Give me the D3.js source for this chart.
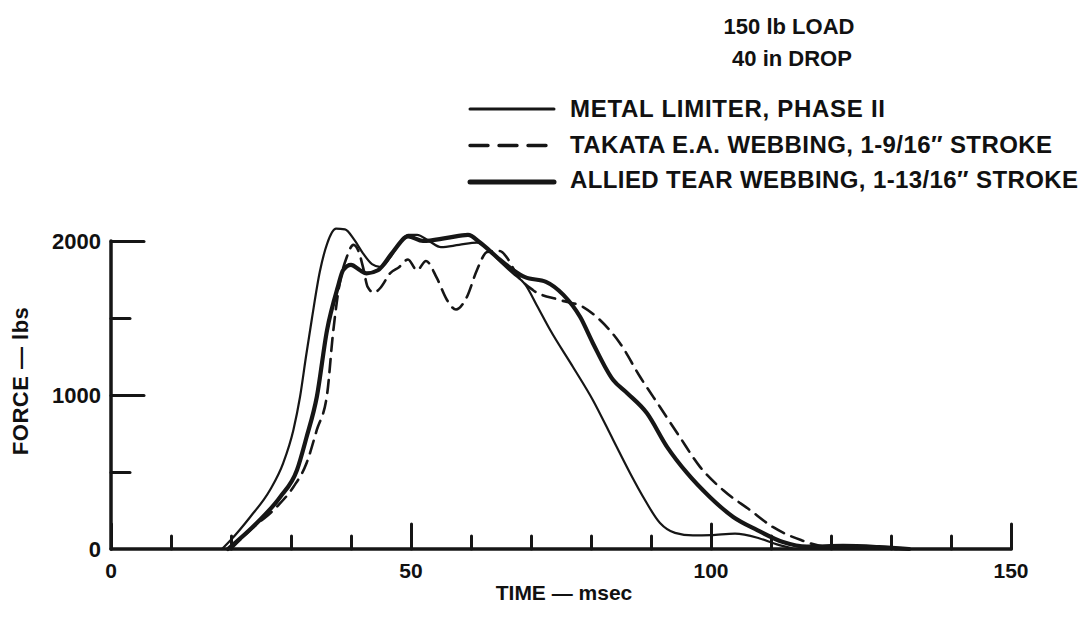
<!DOCTYPE html>
<html>
<head>
<meta charset="utf-8">
<script src="https://cdn.jsdelivr.net/npm/d3@7"></script>
<style>
  body { margin: 0; background: #fff; }
  text { font-family: "Liberation Sans", Arial, sans-serif; font-weight: bold; fill: #111; }
</style>
</head>
<body>
<div id="chart"></div>
<script>
var svgWidth = 1083;
var svgHeight = 617;

// plot area in pixels
var margin = { top: 241, right: 72, bottom: 68, left: 111 };
var width = svgWidth - margin.left - margin.right;
var height = svgHeight - margin.top - margin.bottom;

// data: time (msec) and force (lbs)
var metalTime = [18.5, 20, 23.2, 26.5, 28.7, 30.4, 31.5, 32.5, 33.5, 34.8, 36, 37.5, 39, 40.5, 42, 43.5, 45, 46.5, 48, 49.5, 51, 53, 55, 58, 61, 63, 65, 67, 69, 71, 73.2, 77, 80.3, 83.7, 86.5, 88.7, 91.5, 94, 97, 100, 104, 108, 111, 114];
var metalForce = [0, 60, 208, 383, 558, 773, 987, 1250, 1500, 1800, 1980, 2080, 2075, 2010, 1920, 1850, 1830, 1890, 1980, 2040, 2040, 2000, 1960, 1975, 1990, 1940, 1860, 1790, 1720, 1580, 1422, 1182, 968, 708, 494, 338, 169, 105, 88, 90, 100, 70, 30, 0];

var takataTime = [20, 23.2, 27.6, 30.4, 32.6, 34.3, 36, 37, 38, 39.3, 40.4, 41.3, 42, 42.8, 43.8, 45, 46.5, 48, 49.5, 51, 52.5, 54.3, 56, 57.5, 59.3, 61, 62.7, 64.8, 66.2, 67.5, 70.3, 74.8, 78.7, 81.5, 84.8, 88.2, 91.5, 94.8, 98.2, 102, 106.5, 110.3, 115, 119.3, 125, 131];
var takataForce = [0, 123, 273, 403, 558, 773, 1000, 1400, 1700, 1896, 1975, 1930, 1830, 1700, 1665, 1700, 1790, 1830, 1880, 1810, 1870, 1760, 1617, 1555, 1636, 1812, 1929, 1935, 1880, 1790, 1682, 1617, 1571, 1487, 1338, 1117, 922, 727, 532, 383, 253, 143, 58, 15, 10, 0];

var alliedTime = [19.5, 24.3, 28.2, 31, 32.6, 34.3, 36, 37.8, 38.7, 40, 41.5, 42.6, 44.5, 47, 49.5, 52, 56, 59.5, 61.5, 64.3, 67, 69, 72.5, 75.4, 78.2, 80.3, 83.7, 86, 89.3, 92.7, 96, 99.8, 103.7, 107.7, 112, 116, 122, 128, 133];
var alliedForce = [0, 169, 338, 513, 727, 987, 1420, 1700, 1812, 1845, 1810, 1790, 1810, 1930, 2030, 2000, 2020, 2040, 1990, 1896, 1812, 1765, 1735, 1650, 1506, 1338, 1097, 1013, 883, 662, 494, 338, 208, 123, 45, 15, 20, 12, 0];

var xMajorTicks = [0, 50, 100, 150];
var xMinorTicks = [10, 20, 30, 40, 60, 70, 80, 90, 110, 120, 130, 140];
var yMajorTicks = [1000, 2000];
var yMinorTicks = [500, 1500];
var yLabelTicks = [0, 1000, 2000];

var legendLabels = ["METAL LIMITER, PHASE II", "TAKATA E.A. WEBBING, 1-9/16\u2033 STROKE", "ALLIED TEAR WEBBING, 1-13/16\u2033 STROKE"];

var svg = d3.select("#chart")
  .append("svg")
  .attr("width", svgWidth)
  .attr("height", svgHeight);

var chartGroup = svg.append("g")
  .attr("transform", `translate(${margin.left}, ${margin.top})`);

var x = d3.scaleLinear().domain([0, 150]).range([0, width]);
var y = d3.scaleLinear().domain([0, 2000]).range([height, 0]);

var ink = "#161616";

// axes: ticks point inward
var xMajor = d3.axisTop(x).tickValues(xMajorTicks).tickSize(25).tickFormat("");
var xMinor = d3.axisTop(x).tickValues(xMinorTicks).tickSize(13).tickFormat("");
var yMajor = d3.axisRight(y).tickValues(yMajorTicks).tickSize(33).tickFormat("");
var yMinor = d3.axisRight(y).tickValues(yMinorTicks).tickSize(19).tickFormat("");

[xMajor, xMinor].forEach(function(a) {
  chartGroup.append("g")
    .attr("transform", `translate(0, ${height})`)
    .call(a);
});
[yMajor, yMinor].forEach(function(a) {
  chartGroup.append("g").call(a);
});

chartGroup.selectAll(".domain").remove();
chartGroup.selectAll(".tick line")
  .attr("stroke", ink)
  .attr("stroke-width", 3)
  .attr("stroke-linecap", "round");

chartGroup.append("line")
  .attr("x1", x(0)).attr("x2", x(150))
  .attr("y1", y(0)).attr("y2", y(0))
  .attr("stroke", ink).attr("stroke-width", 3.5).attr("stroke-linecap", "round");
chartGroup.append("line")
  .attr("x1", x(0)).attr("x2", x(0))
  .attr("y1", y(0)).attr("y2", y(2000))
  .attr("stroke", ink).attr("stroke-width", 3.5).attr("stroke-linecap", "round");

// tick labels
chartGroup.selectAll(".xlab")
  .data(xMajorTicks)
  .enter()
  .append("text")
  .attr("x", d => x(d))
  .attr("y", height + 29)
  .attr("text-anchor", "middle")
  .attr("font-size", "21px")
  .text(d => d);

chartGroup.selectAll(".ylab")
  .data(yLabelTicks)
  .enter()
  .append("text")
  .attr("x", -10)
  .attr("y", d => y(d))
  .attr("dy", "0.35em")
  .attr("text-anchor", "end")
  .attr("font-size", "22px")
  .text(d => d);

chartGroup.append("text")
  .attr("x", x(75.5))
  .attr("y", height + 51)
  .attr("text-anchor", "middle")
  .attr("font-size", "21px")
  .text("TIME \u2014 msec");

chartGroup.append("text")
  .attr("transform", "rotate(-90)")
  .attr("x", -y(1090))
  .attr("y", -83)
  .attr("text-anchor", "middle")
  .attr("font-size", "22px")
  .attr("textLength", 148)
  .attr("lengthAdjust", "spacing")
  .text("FORCE \u2014 lbs");

// curves
var line = d3.line()
  .x(d => x(d[0]))
  .y(d => y(d[1]))
  .curve(d3.curveMonotoneX);

var series = [
  { name: legendLabels[0], pts: d3.zip(metalTime, metalForce), w: 2.2, dash: null, len: 315, dy: 0 },
  { name: legendLabels[1], pts: d3.zip(takataTime, takataForce), w: 2.6, dash: "13,8", len: 482, dy: 1 },
  { name: legendLabels[2], pts: d3.zip(alliedTime, alliedForce), w: 4.2, dash: null, len: 508, dy: 2 }
];

chartGroup.selectAll(".curve")
  .data(series)
  .enter()
  .append("path")
  .attr("d", d => line(d.pts))
  .attr("fill", "none")
  .attr("stroke", ink)
  .attr("stroke-width", d => d.w)
  .attr("stroke-dasharray", d => d.dash)
  .attr("stroke-linecap", "round")
  .attr("stroke-linejoin", "round");

// title and legend
svg.append("text").attr("x", 789).attr("y", 34)
  .attr("text-anchor", "middle").attr("font-size", "22px").text("150 lb LOAD");
svg.append("text").attr("x", 792).attr("y", 66)
  .attr("text-anchor", "middle").attr("font-size", "22px").text("40 in DROP");

var legend = svg.selectAll(".legend")
  .data(series)
  .enter()
  .append("g")
  .attr("transform", (d, i) => `translate(468, ${117 + i * 35.5})`);

legend.append("line")
  .attr("x1", 2).attr("x2", 86)
  .attr("y1", d => -8 + d.dy).attr("y2", d => -8 + d.dy)
  .attr("stroke", ink)
  .attr("stroke-width", d => d.w + 0.8)
  .attr("stroke-dasharray", d => d.dash ? "18,11" : null)
  .attr("stroke-linecap", "round");

legend.append("text")
  .attr("x", 102)
  .attr("font-size", "24px")
  .attr("textLength", d => d.len)
  .attr("lengthAdjust", "spacing")
  .text(d => d.name);
</script>
</body>
</html>
